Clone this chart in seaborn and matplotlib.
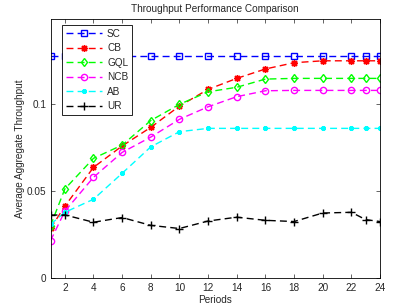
import numpy as np
import pandas as pd
import seaborn as sns
import matplotlib
matplotlib.use("Agg")
import matplotlib.pyplot as plt

periods = [1, 2, 4, 6, 8, 10, 12, 14, 16, 18, 20, 22, 23, 24]
sc = [0.1277] * 14
cb = [0.0288, 0.0415, 0.0638, 0.0761, 0.0868, 0.0990, 0.1086, 0.1149, 0.1203, 0.1239, 0.1250, 0.1250, 0.1250, 0.1250]
gql = [0.0303, 0.0514, 0.0690, 0.0766, 0.0907, 0.1000, 0.1072, 0.1098, 0.1145, 0.1149, 0.1149, 0.1149, 0.1149, 0.1149]
ncb = [0.0217, 0.0386, 0.0581, 0.0724, 0.0812, 0.0914, 0.0986, 0.1044, 0.1078, 0.1080, 0.1080, 0.1080, 0.1080, 0.1080]
ab = [0.0311, 0.0380, 0.0455, 0.0604, 0.0756, 0.0843, 0.0862, 0.0862, 0.0862, 0.0862, 0.0862, 0.0862, 0.0862, 0.0862]
ur = [0.0364, 0.0365, 0.0323, 0.0350, 0.0305, 0.0287, 0.0330, 0.0352, 0.0334, 0.0327, 0.0376, 0.0380, 0.0338, 0.0327]

series = ["SC", "CB", "GQL", "NCB", "AB", "UR"]
values = [sc, cb, gql, ncb, ab, ur]

rows = []
for name, vals in zip(series, values):
    for p, v in zip(periods, vals):
        rows.append({"Periods": p, "Throughput": v, "Scheme": name})
df = pd.DataFrame(rows)

sns.set_style("ticks")
plt.rcParams["font.family"] = ["Liberation Sans", "DejaVu Sans"]

# matlab-ish look, '*' is an 8-arm asterisk there
star = (8, 2, 0)
styles = {
    "SC": dict(color=(0, 0, 1), marker="s", ms=4.5, mfc="none"),
    "CB": dict(color=(1, 0, 0), marker=star, ms=5, mfc=(1, 0, 0)),
    "GQL": dict(color=(0, 1, 0), marker="d", ms=4.5, mfc="none"),
    "NCB": dict(color=(1, 0, 1), marker="o", ms=4.5, mfc="none"),
    "AB": dict(color=(0, 1, 1), marker=star, ms=3.5, mfc=(0, 1, 1)),
    "UR": dict(color=(0, 0, 0), marker="+", ms=5.5, mfc="none"),
}

fig = plt.figure(figsize=(4.15, 3.06), dpi=100)
ax = fig.add_axes([0.1217, 0.0899, 0.7940, 0.8480])

for name in series:
    st = styles[name]
    sns.lineplot(data=df[df["Scheme"] == name], x="Periods", y="Throughput",
                 ax=ax, label=name, color=st["color"], marker=st["marker"],
                 markersize=st["ms"], markerfacecolor=st["mfc"],
                 markeredgecolor=st["color"], markeredgewidth=1.0,
                 linewidth=1.0, dashes=False, linestyle=(0, (5, 3)))

ax.set_xlim(1, 24)
ax.set_ylim(0, 0.149)
ax.set_xticks(range(2, 25, 2))
ax.set_yticks([0, 0.05, 0.1])
ax.set_yticklabels(["0", "0.05", "0.1"])
ax.tick_params(direction="in", length=3, width=0.5, labelsize=7.2,
               top=True, right=True, pad=3)
for s in ax.spines.values():
    s.set_visible(True)
    s.set_linewidth(0.6)
    s.set_color("black")

ax.set_xlabel("Periods", fontsize=7.2, labelpad=2)
ax.set_ylabel("Average Aggregate Throughput", fontsize=7.2, labelpad=1)
ax.set_title("Throughput Performance Comparison", fontsize=7.2, pad=5)

leg = ax.legend(loc="upper left", bbox_to_anchor=(0.035, 0.978), fontsize=7.2,
                handlelength=3.6, handletextpad=0.5, labelspacing=0.45,
                borderpad=0.4, borderaxespad=0, fancybox=False, framealpha=1)
leg.get_frame().set_edgecolor("black")
leg.get_frame().set_linewidth(0.6)

fig.savefig("out.png", dpi=100)
